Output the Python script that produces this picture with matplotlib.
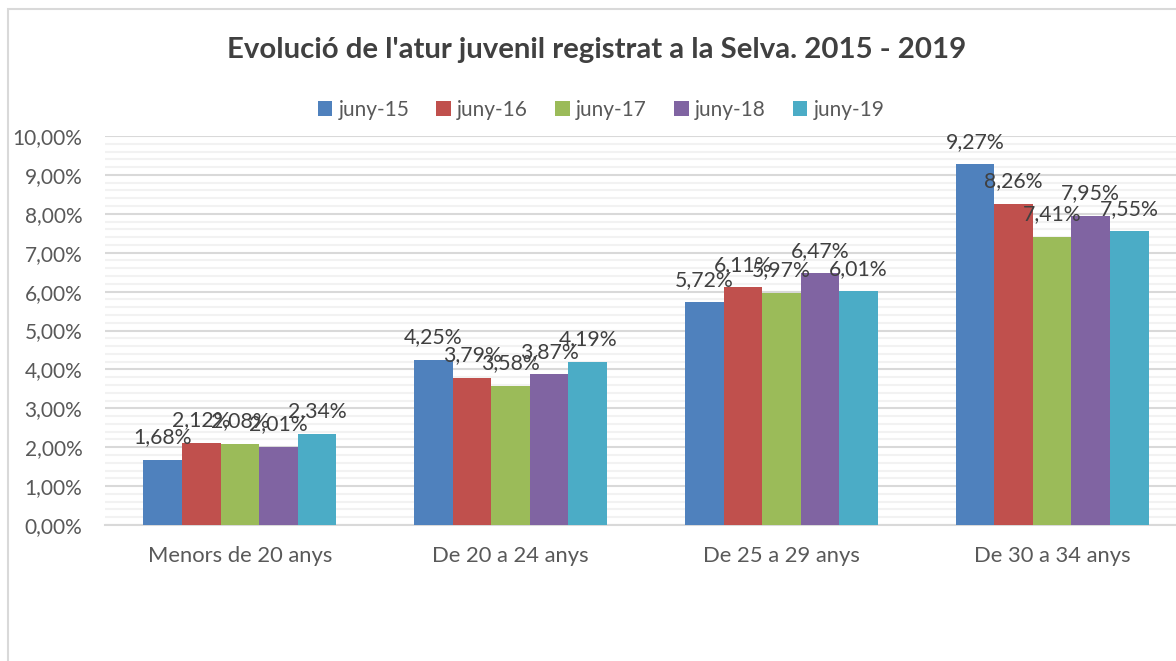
import matplotlib
matplotlib.use("Agg")
import matplotlib.pyplot as plt
from matplotlib.ticker import MultipleLocator, FuncFormatter
from matplotlib.patches import Rectangle
import numpy as np

categories = ["Menors de 20 anys", "De 20 a 24 anys", "De 25 a 29 anys", "De 30 a 34 anys"]
series_names = ["juny-15", "juny-16", "juny-17", "juny-18", "juny-19"]
juny15 = [1.68, 4.25, 5.72, 9.27]
juny16 = [2.12, 3.79, 6.11, 8.26]
juny17 = [2.08, 3.58, 5.97, 7.41]
juny18 = [2.01, 3.87, 6.47, 7.95]
juny19 = [2.34, 4.19, 6.01, 7.55]
series = [juny15, juny16, juny17, juny18, juny19]
colors = ["#4F81BD", "#C0504D", "#9BBB59", "#8064A2", "#4BACC6"]

plt.rcParams['font.family'] = ['Lato', 'DejaVu Sans']

fig = plt.figure(figsize=(11.76, 6.61), dpi=100)
# chart border
fig.patches.append(Rectangle((8/1176, -0.01), 1.2, 1 - 9/661 + 0.01, transform=fig.transFigure,
                             fill=False, edgecolor="#D9D9D9", linewidth=1.5))

ax = fig.add_axes([104.5/1176, 1 - 525/661, 1083/1176, 389/661])
x = np.arange(len(categories))
w = 0.1425
for i, (vals, c, name) in enumerate(zip(series, colors, series_names)):
    pos = x + (i - 2) * w
    bars = ax.bar(pos, vals, width=w, color=c, label=name, zorder=3, edgecolor="none")
    for p, v in zip(pos, vals):
        ax.annotate(f"{v:.2f}%".replace(".", ","), (p, v), xytext=(0, 9), textcoords="offset points",
                    ha="center", va="bottom", fontsize=15.3, color="#404040", zorder=4)

ax.set_xlim(-0.5, 3.5)
ax.set_ylim(0, 10)
ax.yaxis.set_major_locator(MultipleLocator(1))
ax.yaxis.set_minor_locator(MultipleLocator(0.2))
ax.yaxis.set_major_formatter(FuncFormatter(lambda v, p: f"{v:.2f}%".replace(".", ",")))
ax.grid(True, which="major", axis="y", color="#D9D9D9", linewidth=1.5, zorder=0)
ax.grid(True, which="minor", axis="y", color="#F2F2F2", linewidth=1.5, zorder=0)
for s in ["top", "right", "left"]:
    ax.spines[s].set_visible(False)
ax.spines["bottom"].set_color("#D9D9D9")
ax.spines["bottom"].set_linewidth(1.5)
ax.tick_params(axis="y", which="both", length=0, labelsize=15, labelcolor="#595959", pad=16)
ax.tick_params(axis="x", which="both", length=0, labelsize=15.8, labelcolor="#595959", pad=15)
ax.set_xticks(x)
ax.set_xticklabels(categories)

fig.text(597/1176, 1 - 50/661, "Evolució de l'atur juvenil registrat a la Selva. 2015 - 2019",
         ha="center", va="center", fontsize=21.2, fontweight="bold", color="#404040")

fig.legend(loc="center", bbox_to_anchor=(601/1176, 1 - 110/661), ncol=5, frameon=False,
           fontsize=15, labelcolor="#595959", handlelength=0.7, handleheight=0.7,
           handletextpad=0.3, columnspacing=1.3)

fig.savefig("out.png", dpi=100, facecolor="white")
